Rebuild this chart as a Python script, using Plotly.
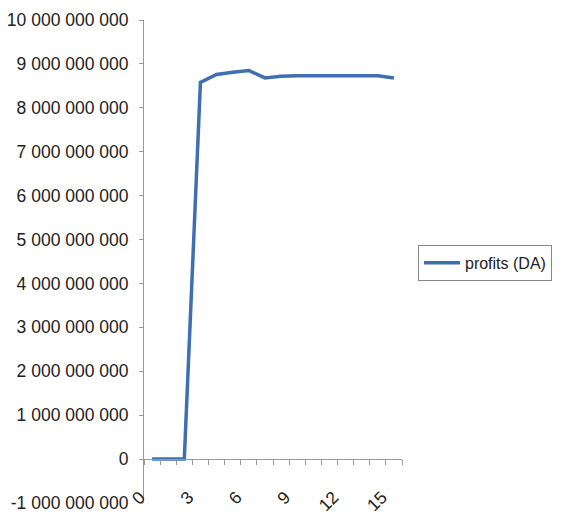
import plotly.graph_objects as go

periods = list(range(16))
profits = [0, 0, 0, 8.58e9, 8.76e9, 8.81e9, 8.85e9, 8.68e9, 8.72e9, 8.73e9,
           8.73e9, 8.73e9, 8.73e9, 8.73e9, 8.73e9, 8.68e9]
series_name = "profits (DA)"

y_tick_vals = [-1e9, 0, 1e9, 2e9, 3e9, 4e9, 5e9, 6e9, 7e9, 8e9, 9e9, 1e10]
y_tick_text = ["-1 000 000 000", "0", "1 000 000 000", "2 000 000 000",
               "3 000 000 000", "4 000 000 000", "5 000 000 000", "6 000 000 000",
               "7 000 000 000", "8 000 000 000", "9 000 000 000", "10 000 000 000"]
x_tick_vals = [0, 3, 6, 9, 12, 15]
x_tick_text = ["0", "3", "6", "9", "12", "15"]

font = dict(family="Liberation Sans, Arial, sans-serif", size=17.5, color="#222222")

fig = go.Figure()
fig.add_trace(go.Scatter(x=periods, y=profits, mode="lines", name=series_name,
                         line=dict(color="#3e6fb0", width=3.5)))

fig.update_layout(
    width=555, height=507,
    margin=dict(l=136, r=161, t=12, b=12, autoexpand=False),
    plot_bgcolor="white", paper_bgcolor="white",
    font=font,
    showlegend=True,
    legend=dict(x=1.062, y=0.497, xanchor="left", yanchor="middle",
                bordercolor="#888888", borderwidth=1, bgcolor="white",
                itemwidth=36,
                font=dict(family="Liberation Sans, Arial, sans-serif", size=16, color="#222222")),
    xaxis=dict(range=[-0.5, 15.5], tickvals=x_tick_vals, ticktext=x_tick_text,
               tickangle=-45, showgrid=False, zeroline=False, showline=True,
               linecolor="#999999", linewidth=1, ticks="", automargin=False,
               anchor="free", position=1/11, ticklabelstandoff=20,
               ticklabelshift=-12,
               minor=dict(tickvals=[i - 0.5 for i in range(17)], ticks="outside",
                          ticklen=5, tickcolor="#999999", showgrid=False)),
    yaxis=dict(range=[-1e9, 1e10], tickvals=y_tick_vals, ticktext=y_tick_text,
               showgrid=False, zeroline=False, showline=True, linecolor="#999999",
               linewidth=1, ticks="outside", ticklen=4, tickcolor="#999999",
               ticklabelstandoff=7, automargin=False),
)

fig.write_html("out.html")
